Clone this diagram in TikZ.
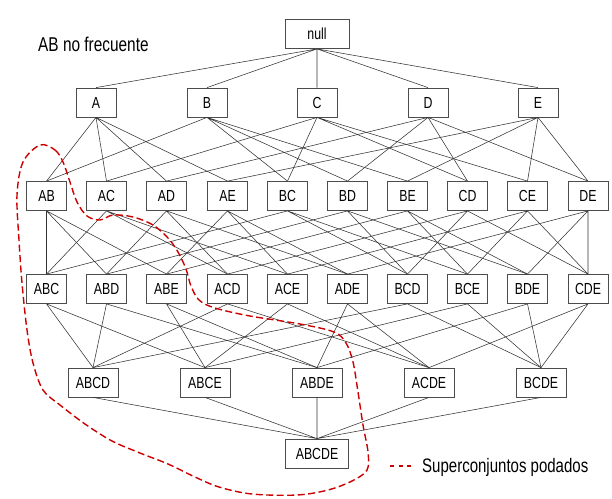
\documentclass[tikz,border=0pt]{standalone}
\usepackage{fontspec}
\setmainfont{Liberation Sans}[FakeStretch=0.77]
\begin{document}
\begin{tikzpicture}[x=1pt,y=-1pt,
  set/.style={draw=black!70, line width=0.8pt, minimum width=40pt, minimum height=29pt, inner sep=1pt, font=\fontsize{16}{18}\selectfont},
  link/.style={draw=black!80, line width=0.55pt},
  pruned/.style={draw=red!80!black, line width=1.4pt, dash pattern=on 7pt off 3.5pt}]
\useasboundingbox (0,0) rectangle (612,498);

% title
\node[anchor=base west, inner sep=0pt, font=\fontsize{20}{22}\selectfont] (title) at (38,51) {AB no frecuente};

% level 0 and 1
\node[set, minimum width=64pt] (null) at (317,34) {null};
\node[set] (A) at (96,102.5) {A};
\node[set] (B) at (207,102.5) {B};
\node[set] (C) at (317,102.5) {C};
\node[set] (D) at (428,102.5) {D};
\node[set] (E) at (538,102.5) {E};

% level 2
\node[set] (AB) at (46.5,196) {AB};
\node[set] (AC) at (106.5,196) {AC};
\node[set] (AD) at (166.5,196) {AD};
\node[set] (AE) at (227.5,196) {AE};
\node[set] (BC) at (287.5,196) {BC};
\node[set] (BD) at (347.5,196) {BD};
\node[set] (BE) at (407.5,196) {BE};
\node[set] (CD) at (467.5,196) {CD};
\node[set] (CE) at (527.5,196) {CE};
\node[set] (DE) at (588,196) {DE};

% level 3
\node[set] (ABC) at (46.5,289) {ABC};
\node[set] (ABD) at (106.5,289) {ABD};
\node[set] (ABE) at (166.5,289) {ABE};
\node[set] (ACD) at (227.5,289) {ACD};
\node[set] (ACE) at (287.5,289) {ACE};
\node[set] (ADE) at (347.5,289) {ADE};
\node[set] (BCD) at (407.5,289) {BCD};
\node[set] (BCE) at (467.5,289) {BCE};
\node[set] (BDE) at (527.5,289) {BDE};
\node[set] (CDE) at (588,289) {CDE};

% level 4 and 5
\node[set, minimum width=50pt] (ABCD) at (93,382.5) {ABCD};
\node[set, minimum width=50pt] (ABCE) at (205,382.5) {ABCE};
\node[set, minimum width=50pt] (ABDE) at (317,382.5) {ABDE};
\node[set, minimum width=50pt] (ACDE) at (429,382.5) {ACDE};
\node[set, minimum width=50pt] (BCDE) at (541,382.5) {BCDE};
\node[set, minimum width=63pt] (ABCDE) at (317,453.5) {ABCDE};

% links
\path[link] (null.south) -- (A.north) (null.south) -- (B.north) (null.south) -- (C.north) (null.south) -- (D.north) (null.south) -- (E.north);
\path[link] (A.south) -- (AB.north) (A.south) -- (AC.north) (A.south) -- (AD.north) (A.south) -- (AE.north);
\path[link] (B.south) -- (AB.north) (B.south) -- (BC.north) (B.south) -- (BD.north) (B.south) -- (BE.north);
\path[link] (C.south) -- (AC.north) (C.south) -- (BC.north) (C.south) -- (CD.north) (C.south) -- (CE.north);
\path[link] (D.south) -- (AD.north) (D.south) -- (BD.north) (D.south) -- (CD.north) (D.south) -- (DE.north);
\path[link] (E.south) -- (AE.north) (E.south) -- (BE.north) (E.south) -- (CE.north) (E.south) -- (DE.north);

\path[link] (AB.south) -- (ABC.north) (AB.south) -- (ABD.north) (AB.south) -- (ABE.north);
\path[link] (AC.south) -- (ABC.north) (AC.south) -- (ACD.north) (AC.south) -- (ACE.north);
\path[link] (AD.south) -- (ABD.north) (AD.south) -- (ACD.north) (AD.south) -- (ADE.north);
\path[link] (AE.south) -- (ABE.north) (AE.south) -- (ACE.north) (AE.south) -- (ADE.north);
\path[link] (BC.south) -- (ABC.north) (BC.south) -- (BCD.north) (BC.south) -- (BCE.north);
\path[link] (BD.south) -- (ABD.north) (BD.south) -- (BCD.north) (BD.south) -- (BDE.north);
\path[link] (BE.south) -- (ABE.north) (BE.south) -- (BCE.north) (BE.south) -- (BDE.north);
\path[link] (CD.south) -- (ACD.north) (CD.south) -- (BCD.north) (CD.south) -- (CDE.north);
\path[link] (CE.south) -- (ACE.north) (CE.south) -- (BCE.north) (CE.south) -- (CDE.north);
\path[link] (DE.south) -- (ADE.north) (DE.south) -- (BDE.north) (DE.south) -- (CDE.north);

\path[link] (ABC.south) -- (ABCD.north) (ABC.south) -- (ABCE.north);
\path[link] (ABD.south) -- (ABCD.north) (ABD.south) -- (ABDE.north);
\path[link] (ABE.south) -- (ABCE.north) (ABE.south) -- (ABDE.north);
\path[link] (ACD.south) -- (ABCD.north) (ACD.south) -- (ACDE.north);
\path[link] (ACE.south) -- (ABCE.north) (ACE.south) -- (ACDE.north);
\path[link] (ADE.south) -- (ABDE.north) (ADE.south) -- (ACDE.north);
\path[link] (BCD.south) -- (ABCD.north) (BCD.south) -- (BCDE.north);
\path[link] (BCE.south) -- (ABCE.north) (BCE.south) -- (BCDE.north);
\path[link] (BDE.south) -- (ABDE.north) (BDE.south) -- (BCDE.north);
\path[link] (CDE.south) -- (ACDE.north) (CDE.south) -- (BCDE.north);

\path[link] (ABCD.south) -- (ABCDE.north) (ABCE.south) -- (ABCDE.north) (ABDE.south) -- (ABCDE.north) (ACDE.south) -- (ABCDE.north) (BCDE.south) -- (ABCDE.north);

% pruned supersets
\draw[pruned] plot[smooth cycle, tension=0.55] coordinates {
  (40,145) (55,150) (63,162) (70,182) (77,202) (87,216) (100,220) (113,215) (133,217)
  (153,225) (168,238) (178,252) (186,269) (191,286) (199,300) (215,308) (250,316)
  (300,324) (334,332) (346,343) (353,362) (358,392) (363,425) (368,452) (367,470)
  (352,481) (328,490) (297,495) (252,494) (219,487) (195,477) (168,464) (140,453)
  (112,441) (85,424) (60,405) (43,390) (33,363) (27,330) (22,283) (19,240) (17,195) (23,162)};

% legend
\coordinate (keyL) at (390,466);
\coordinate (keyR) at (411,466);
\draw[draw=red!80!black, line width=1.2pt, dash pattern=on 4pt off 4.5pt] (keyL) -- (keyR);
\node[anchor=base west, inner sep=0pt, font=\fontsize{19.5}{21}\selectfont] (key) at (422,472) {Superconjuntos podados};
\end{tikzpicture}
\end{document}
